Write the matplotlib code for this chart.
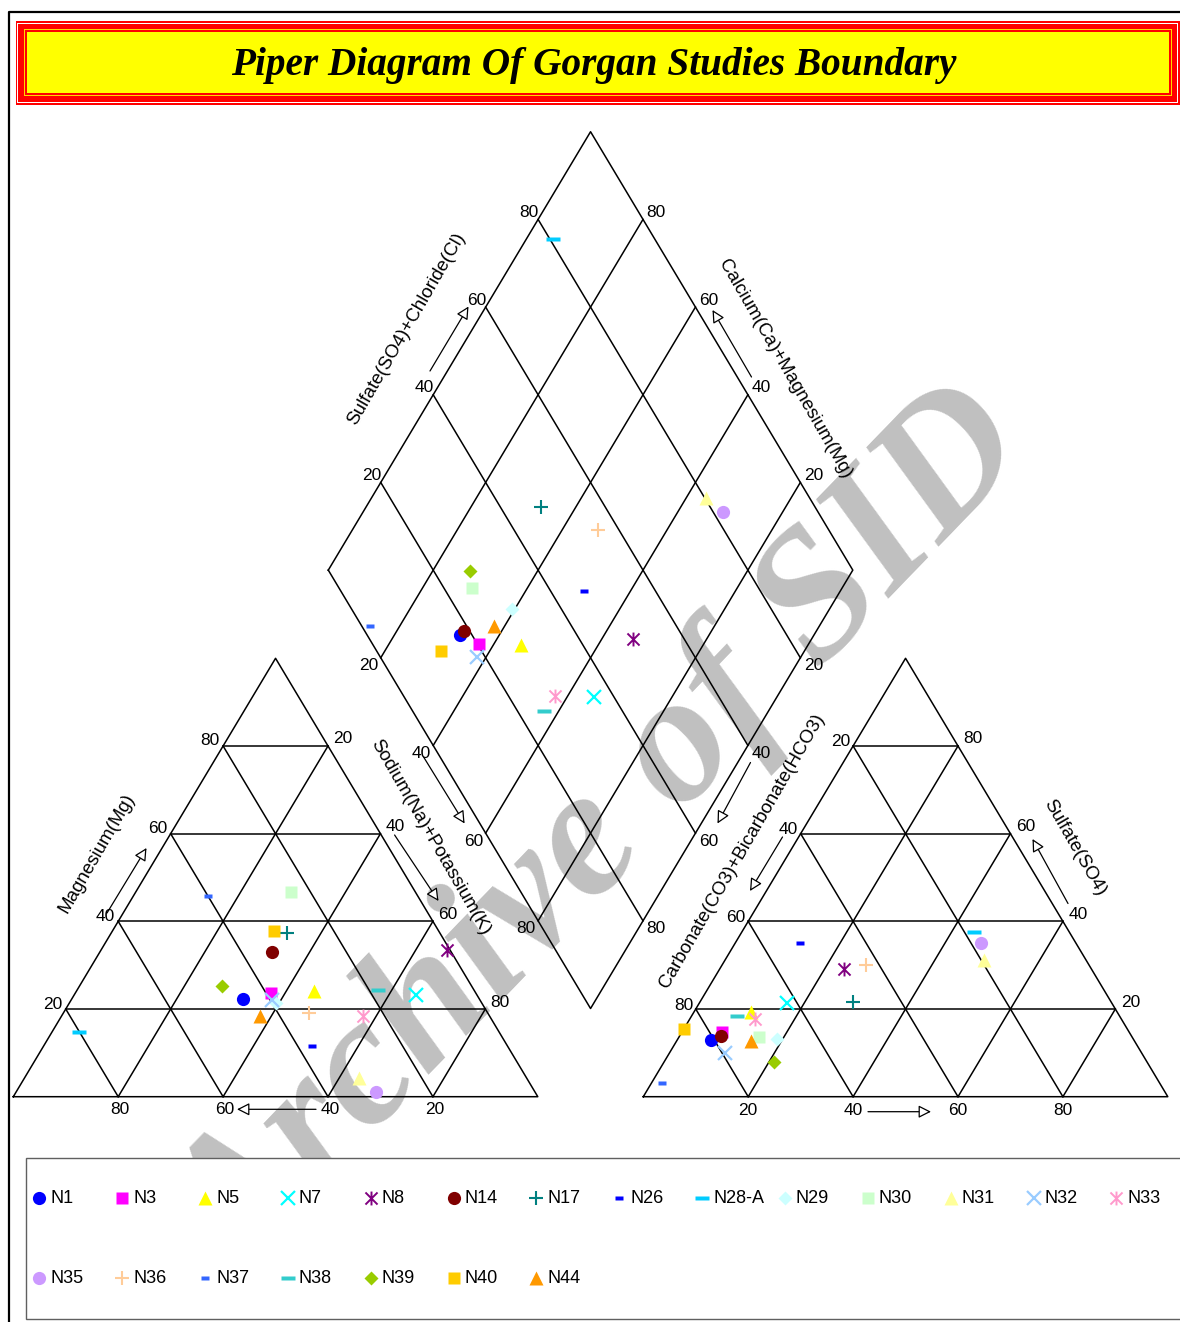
import numpy as np
import matplotlib
matplotlib.use("Agg")
import matplotlib.pyplot as plt
from matplotlib.path import Path
from matplotlib.patches import Rectangle

plt.rcParams['font.family'] = ['Liberation Sans', 'DejaVu Sans']

# ---- sample data (meq %) ----
samples = ["N1", "N3", "N5", "N7", "N8", "N14", "N17", "N26", "N28-A", "N29", "N30",
           "N31", "N32", "N33", "N35", "N36", "N37", "N38", "N39", "N40", "N44"]

# cations
ca = [45.1, 39.1, 30.7, 11.6, 0.6, 34.2, 29.2, 37.2, 80.1, 39.2, 23.7,
      31.9, 39.6, 24.2, 30.3, 34.0, 40.0, 18.4, 47.6, 31.4, 43.8]
mg = [22.3, 23.7, 24.0, 23.2, 33.5, 32.9, 37.4, 11.6, 14.8, 21.4, 46.8,
      4.3, 22.1, 18.3, 1.1, 19.1, 45.7, 24.3, 25.3, 37.9, 18.3]
na_k = [32.6, 37.2, 45.3, 65.2, 65.9, 32.9, 33.4, 51.2, 5.1, 39.4, 29.5,
        63.8, 38.3, 57.5, 68.6, 46.9, 14.3, 57.3, 27.1, 30.7, 37.9]

# anions
hco3 = [80.7, 77.6, 69.7, 61.9, 47.1, 78.2, 49.2, 52.5, 18.1, 67.9, 71.0,
        19.4, 79.5, 69.8, 18.0, 42.5, 94.8, 73.0, 71.0, 84.6, 73.1]
so4 = [12.9, 14.8, 19.4, 21.4, 29.1, 13.9, 21.6, 35.1, 37.6, 13.2, 13.7,
       31.2, 10.0, 17.7, 35.1, 30.0, 3.2, 18.3, 8.0, 15.4, 12.8]
cl = [6.4, 7.6, 10.9, 16.7, 23.8, 7.9, 29.2, 12.4, 44.3, 18.9, 15.3,
      49.4, 10.5, 12.5, 46.9, 27.5, 2.0, 8.7, 21.0, 0.0, 14.1]

# Cl+SO4 share as plotted in the diamond (total anions there differ slightly)
cl_so4_diamond = [17.7, 20.3, 28.3, 36.3, 50.3, 19.0, 47.7, 46.4, 80.6, 30.5, 25.4,
                  80.3, 18.5, 28.8, 81.9, 56.0, 1.5, 25.1, 26.9, 12.3, 25.2]

tick_values = [20, 40, 60, 80]

# ---- marker styles (Excel palette) ----
colors = ['#0000FF', '#FF00FF', '#FFFF00', '#00FFFF', '#800080', '#800000', '#008080',
          '#0000FF', '#00CCFF', '#CCFFFF', '#CCFFCC', '#FFFF99', '#99CCFF', '#FF99CC',
          '#CC99FF', '#FFCC99', '#3366FF', '#33CCCC', '#99CC00', '#FFCC00', '#FF9900']
kinds = ['circle', 'square', 'triangle', 'x', 'star', 'circle', 'plus',
         'dash', 'bar', 'diamond', 'square', 'triangle', 'x', 'star',
         'circle', 'plus', 'dash', 'bar', 'diamond', 'square', 'triangle']

star_path = Path([(-1, -1), (1, 1), (-1, 1), (1, -1), (0, -1.15), (0, 1.15)],
                 [Path.MOVETO, Path.LINETO] * 3)
dash_path = Path([(-1, -0.5), (1, -0.5), (1, 0.5), (-1, 0.5), (-1, -0.5)], closed=True)
bar_path = Path([(-1, -0.3), (1, -0.3), (1, 0.3), (-1, 0.3), (-1, -0.3)], closed=True)


def marker_kw(kind, color):
    if kind == 'circle':
        return dict(marker='o', ms=9.5, mfc=color, mec='none')
    if kind == 'square':
        return dict(marker='s', ms=9.0, mfc=color, mec='none')
    if kind == 'triangle':
        return dict(marker='^', ms=10, mfc=color, mec='none')
    if kind == 'diamond':
        return dict(marker='D', ms=6.8, mfc=color, mec='none')
    if kind == 'x':
        return dict(marker='x', ms=9.5, mec=color, mew=1.6)
    if kind == 'plus':
        return dict(marker='+', ms=10, mec=color, mew=1.5)
    if kind == 'star':
        return dict(marker=star_path, ms=10, mfc='none', mec=color, mew=1.4)
    if kind == 'dash':
        return dict(marker=dash_path, ms=6, mfc=color, mec='none')
    return dict(marker=bar_path, ms=10.5, mfc=color, mec='none')


# ---- layout (pixels) ----
W, H = 1180, 1322
X0 = 13.3          # left corner of cation triangle
BASE_Y = 1096.7    # base line of both triangles
SIDE = 524.5       # triangle side
TRI_H = 438.4      # triangle height
GAP = 105.5        # gap between the triangles
X_AN = X0 + SIDE + GAP
DIA_X0 = X0 + SIDE / 2 + GAP / 2
DIA_Y0 = BASE_Y - GAP * TRI_H / SIDE - TRI_H
LW = 1.1


def tri_point(x_left, right_pct, top_pct):
    r = np.asarray(right_pct, dtype=float)
    t = np.asarray(top_pct, dtype=float)
    return x_left + SIDE * (r + t / 2) / 100, BASE_Y - TRI_H * t / 100


def dia_point(nak_pct, clso4_pct):
    n = np.asarray(nak_pct, dtype=float)
    c = np.asarray(clso4_pct, dtype=float)
    return DIA_X0 + SIDE / 2 * (n + c) / 100, DIA_Y0 + TRI_H * (n - c) / 100


fig = plt.figure(figsize=(W / 100, H / 100), dpi=100)
ax = fig.add_axes([0, 0, 1, 1])
ax.set_xlim(0, W)
ax.set_ylim(H, 0)
ax.axis('off')

# outer frame
ax.plot([8.5, 8.5, W + 5], [H + 5, 11.5, 11.5], color='black', lw=1.6, zorder=2)

# title banner
for inset, col in [(0, '#FF0000'), (1.6, 'white'), (2.6, '#FF0000'), (8.2, '#FFD700'),
                   (9.4, '#FF0000'), (11.4, '#FFFF00')]:
    ax.add_patch(Rectangle((15.5 + inset, 21.0 + inset), 1180 - 15.5 - 2 * inset,
                           83.5 - 2 * inset, facecolor=col, edgecolor='none', zorder=2))
ax.text(593.5, 75, "Piper Diagram Of Gorgan Studies Boundary", ha='center', va='baseline',
        fontsize=28.3, family='Liberation Serif', weight='bold', style='italic', zorder=3)

# watermark
ax.text(604, 838, "Archive of SID", ha='center', va='center', rotation=46,
        rotation_mode='anchor', fontsize=133, family='Liberation Serif', weight='bold',
        style='italic', color='#C0C0C0', zorder=1)


def draw_triangle(x_left):
    xs, ys = tri_point(x_left, [0, 100, 0, 0], [0, 0, 100, 0])
    ax.plot(xs, ys, color='black', lw=LW, zorder=2)
    for v in tick_values:
        for r, t in [([0, 100 - v], [v, v]), ([v, v], [0, 100 - v]), ([100 - v, 0], [0, 100 - v])]:
            x, y = tri_point(x_left, r, t)
            ax.plot(x, y, color='black', lw=LW, zorder=2)


def draw_diamond():
    xs, ys = dia_point([0, 100, 100, 0, 0], [0, 0, 100, 100, 0])
    ax.plot(xs, ys, color='black', lw=LW, zorder=2)
    for v in tick_values:
        x, y = dia_point([v, v], [0, 100])
        ax.plot(x, y, color='black', lw=LW, zorder=2)
        x, y = dia_point([0, 100], [v, v])
        ax.plot(x, y, color='black', lw=LW, zorder=2)


draw_triangle(X0)
draw_triangle(X_AN)
draw_diamond()


def tick(xy, offset, value):
    ax.text(float(xy[0]) + offset[0], float(xy[1]) + offset[1], str(value),
            ha='center', va='center', fontsize=12.5, zorder=3)


for v in tick_values:
    # cation triangle
    tick(tri_point(X0, 0, v), (-13, -5), v)               # Mg
    tick(tri_point(X0, v, 100 - v), (15, -7), v)          # Na+K
    tick(tri_point(X0, 100 - v, 0), (2, 13), v)           # Ca
    # anion triangle
    tick(tri_point(X_AN, 0, 100 - v), (-12, -4), v)       # HCO3
    tick(tri_point(X_AN, 100 - v, v), (15, -7), v)        # SO4
    tick(tri_point(X_AN, v, 0), (0, 14), v)               # Cl
    # diamond
    tick(dia_point(0, v), (-9, -7), v)                    # SO4+Cl
    tick(dia_point(100 - v, 100), (13, -7), v)            # Ca+Mg
    tick(dia_point(v, 0), (-12, 8), v)                    # Na+K
    tick(dia_point(100, 100 - v), (13, 8), v)             # HCO3

# axis titles
axis_titles = [
    ("Magnesium(Mg)", (97, 853), 60),
    ("Sodium(Na)+Potassium(K)", (430, 837), -60),
    ("Carbonate(CO3)+Bicarbonate(HCO3)", (742, 851), 60),
    ("Sulfate(SO4)", (1075, 848), -60),
    ("Sulfate(SO4)+Chloride(Cl)", (406, 329), 60),
    ("Calcium(Ca)+Magnesium(Mg)", (785, 369), -60),
]
for label, (x, y), rot in axis_titles:
    ax.text(x, y, label, ha='center', va='center', rotation=rot, rotation_mode='anchor',
            fontsize=13.5, zorder=3)

# direction arrows (start, tip)
arrows = [((107, 913), (146.5, 848)), ((394.6, 835), (438.5, 901)), ((316, 1109.3), (237, 1109.3)),
          ((782.5, 837), (750, 891)), ((1068, 903.5), (1032.5, 839)), ((868, 1111.7), (931, 1111.7)),
          ((430, 371), (468.5, 306.5)), ((751.5, 377), (712.5, 310)),
          ((423.6, 757), (464.6, 823.5)), ((750.5, 762.5), (717.5, 823.5))]
for start, tip in arrows:
    ax.annotate('', xy=tip, xytext=start, zorder=3,
                arrowprops=dict(arrowstyle='-|>,head_length=0.75,head_width=0.38', fc='white',
                                ec='black', lw=0.9, shrinkA=0, shrinkB=0, mutation_scale=10))

# samples
cat_x, cat_y = tri_point(X0, na_k, mg)
an_x, an_y = tri_point(X_AN, cl, so4)
dia_x, dia_y = dia_point(na_k, cl_so4_diamond)
for i, name in enumerate(samples):
    kw = marker_kw(kinds[i], colors[i])
    ax.plot([cat_x[i], an_x[i], dia_x[i]], [cat_y[i], an_y[i], dia_y[i]], ls='none',
            zorder=4 + i * 0.01, **kw)

# legend
ax.add_patch(Rectangle((26, 1158), 1180, 161, facecolor='white', edgecolor='#606060',
                       lw=1.0, zorder=5))
for i, name in enumerate(samples):
    col, row = i % 14, i // 14
    lx, ly = 39.3 + 82.85 * col, 1198.3 + 80 * row
    ax.plot([lx], [ly], ls='none', zorder=6, **marker_kw(kinds[i], colors[i]))
    ax.text(lx + 11, ly, name, ha='left', va='center', fontsize=13, zorder=6)

fig.savefig('out.png', dpi=100)
